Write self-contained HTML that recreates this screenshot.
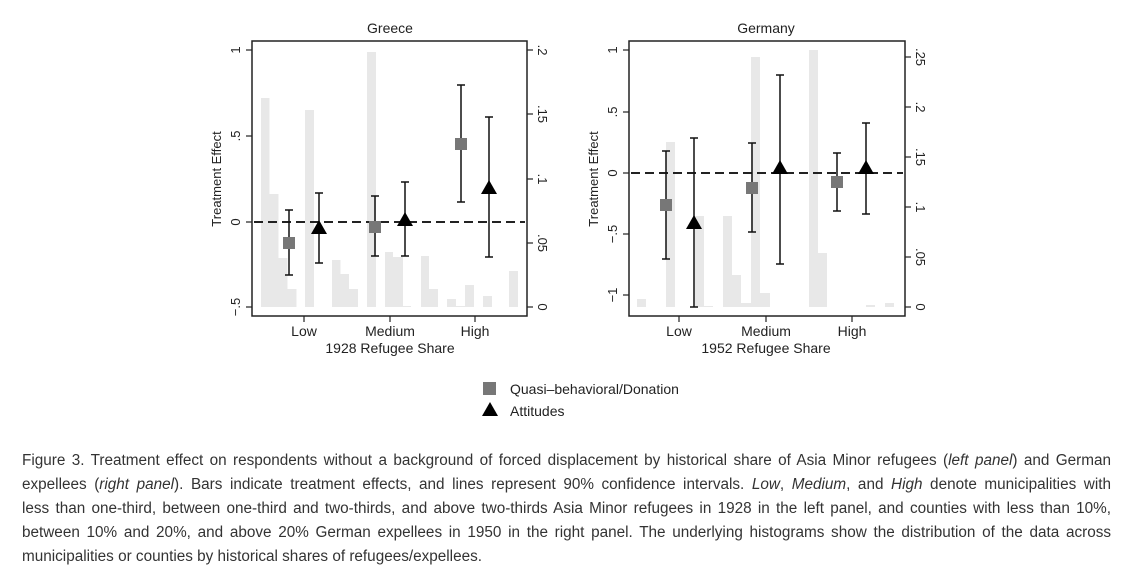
<!DOCTYPE html>
<html><head><meta charset="utf-8"><style>
body{margin:0;background:#fff;width:1130px;height:582px;overflow:hidden;font-family:"Liberation Sans",sans-serif}
.cap{position:absolute;left:22px;width:1089px;font-size:15.3px;color:#333;line-height:24px}
.cap div{text-align:justify;text-align-last:justify;white-space:nowrap;height:24px}
.cap div.l{text-align-last:left}
</style></head><body>
<svg width="1130" height="440" style="position:absolute;left:0;top:0" font-family="Liberation Sans, sans-serif">
<g fill="#e8e8e8">
<rect x="261" y="98" width="8.5" height="209"/>
<rect x="269.5" y="194" width="9" height="113"/>
<rect x="278.5" y="258" width="9" height="49"/>
<rect x="287.5" y="289" width="9" height="18"/>
<rect x="305" y="110" width="9" height="197"/>
<rect x="332" y="260" width="8.5" height="47"/>
<rect x="340.5" y="274" width="8.5" height="33"/>
<rect x="349" y="289" width="9" height="18"/>
<rect x="367" y="52" width="9" height="255"/>
<rect x="385" y="252" width="8" height="55"/>
<rect x="393" y="257" width="10" height="50"/>
<rect x="403" y="306" width="8" height="1"/>
<rect x="421" y="256" width="8" height="51"/>
<rect x="429" y="289" width="9" height="18"/>
<rect x="447" y="299" width="9" height="8"/>
<rect x="456" y="306" width="9" height="1"/>
<rect x="465" y="285" width="9" height="22"/>
<rect x="483" y="296" width="9" height="11"/>
<rect x="509" y="271" width="9" height="36"/>
<rect x="637" y="299" width="9" height="8"/>
<rect x="666" y="142" width="9" height="165"/>
<rect x="695" y="216" width="9" height="91"/>
<rect x="704" y="306" width="9" height="1"/>
<rect x="723" y="216" width="9" height="91"/>
<rect x="732" y="275" width="9" height="32"/>
<rect x="741" y="303" width="10" height="4"/>
<rect x="751" y="57" width="9" height="250"/>
<rect x="760" y="293" width="10" height="14"/>
<rect x="809" y="50" width="9" height="257"/>
<rect x="818" y="253" width="9" height="54"/>
<rect x="866" y="305" width="9" height="2"/>
<rect x="885" y="303" width="9" height="4"/>
</g>
<g fill="none" stroke="#222" stroke-width="1.5">
<rect x="252" y="41" width="275" height="275"/>
<rect x="629" y="41" width="276" height="275"/>
</g>
<g stroke="#222" stroke-width="1.2">
<line x1="246" y1="50" x2="252" y2="50"/><line x1="246" y1="136" x2="252" y2="136"/><line x1="246" y1="222" x2="252" y2="222"/><line x1="246" y1="307" x2="252" y2="307"/>
<line x1="527" y1="50" x2="533" y2="50"/><line x1="527" y1="114" x2="533" y2="114"/><line x1="527" y1="179" x2="533" y2="179"/><line x1="527" y1="243" x2="533" y2="243"/><line x1="527" y1="307" x2="533" y2="307"/>
<line x1="304" y1="316" x2="304" y2="322"/><line x1="390" y1="316" x2="390" y2="322"/><line x1="475" y1="316" x2="475" y2="322"/>
<line x1="623" y1="50" x2="629" y2="50"/><line x1="623" y1="112" x2="629" y2="112"/><line x1="623" y1="173" x2="629" y2="173"/><line x1="623" y1="234" x2="629" y2="234"/><line x1="623" y1="295" x2="629" y2="295"/>
<line x1="905" y1="57" x2="911" y2="57"/><line x1="905" y1="107" x2="911" y2="107"/><line x1="905" y1="157" x2="911" y2="157"/><line x1="905" y1="207" x2="911" y2="207"/><line x1="905" y1="257" x2="911" y2="257"/><line x1="905" y1="307" x2="911" y2="307"/>
<line x1="679" y1="316" x2="679" y2="322"/><line x1="766" y1="316" x2="766" y2="322"/><line x1="852" y1="316" x2="852" y2="322"/>
</g>
<g stroke="#222" stroke-width="2" stroke-dasharray="9,5">
<line x1="254" y1="222" x2="525" y2="222"/>
<line x1="631" y1="173" x2="903" y2="173"/>
</g>
<g stroke="#111" stroke-width="1.5">
<path d="M289 210V275M285 210h8M285 275h8"/>
<path d="M319 193V263M315 193h8M315 263h8"/>
<path d="M375 196V256M371 196h8M371 256h8"/>
<path d="M405 182V256M401 182h8M401 256h8"/>
<path d="M461 85V202M457 85h8M457 202h8"/>
<path d="M489 117V257M485 117h8M485 257h8"/>
<path d="M666 151V259M662 151h8M662 259h8"/>
<path d="M694 138V307M690 138h8M690 307h8"/>
<path d="M752 143V232M748 143h8M748 232h8"/>
<path d="M780 75V264M776 75h8M776 264h8"/>
<path d="M837 153V211M833 153h8M833 211h8"/>
<path d="M866 123V214M862 123h8M862 214h8"/>
</g>
<g fill="#777">
<rect x="283" y="237" width="12" height="12"/><rect x="369" y="221" width="12" height="12"/><rect x="455" y="138" width="12" height="12"/>
<rect x="660" y="199" width="12" height="12"/><rect x="746" y="182" width="12" height="12"/><rect x="831" y="176" width="12" height="12"/>
<rect x="483" y="382" width="13" height="13"/>
</g>
<g fill="#000">
<path d="M319 220l-8 14h16z"/><path d="M405 212l-8 14h16z"/><path d="M489 180l-8 14h16z"/>
<path d="M694 215l-8 14h16z"/><path d="M780 160l-8 14h16z"/><path d="M866 160l-8 14h16z"/>
<path d="M490 402l-8 14h16z"/>
</g>
<g font-size="14" fill="#222" text-anchor="middle">
<text x="390" y="33">Greece</text><text x="766" y="33">Germany</text>
<text x="304" y="336">Low</text><text x="390" y="336">Medium</text><text x="475" y="336">High</text>
<text x="390" y="353">1928 Refugee Share</text>
<text x="679" y="336">Low</text><text x="766" y="336">Medium</text><text x="852" y="336">High</text>
<text x="766" y="353">1952 Refugee Share</text>
</g>
<g font-size="13" fill="#222" text-anchor="middle">
<text transform="translate(221,179) rotate(-90)">Treatment Effect</text>
<text transform="translate(598,179) rotate(-90)">Treatment Effect</text>
<text transform="translate(240,50) rotate(-90)">1</text><text transform="translate(240,136) rotate(-90)">.5</text><text transform="translate(240,222) rotate(-90)">0</text><text transform="translate(240,307) rotate(-90)">−.5</text>
<text transform="translate(538,50) rotate(90)">.2</text><text transform="translate(538,114) rotate(90)">.15</text><text transform="translate(538,179) rotate(90)">.1</text><text transform="translate(538,243) rotate(90)">.05</text><text transform="translate(538,307) rotate(90)">0</text>
<text transform="translate(617,50) rotate(-90)">1</text><text transform="translate(617,112) rotate(-90)">.5</text><text transform="translate(617,173) rotate(-90)">0</text><text transform="translate(617,234) rotate(-90)">−.5</text><text transform="translate(617,295) rotate(-90)">−1</text>
<text transform="translate(916,57) rotate(90)">.25</text><text transform="translate(916,107) rotate(90)">.2</text><text transform="translate(916,157) rotate(90)">.15</text><text transform="translate(916,207) rotate(90)">.1</text><text transform="translate(916,257) rotate(90)">.05</text><text transform="translate(916,307) rotate(90)">0</text>
</g>
<g font-size="14" fill="#222">
<text x="510" y="394">Quasi–behavioral/Donation</text>
<text x="510" y="416">Attitudes</text>
</g>
</svg>
<div class="cap" style="top:449px">
<div>Figure 3. Treatment effect on respondents without a background of forced displacement by historical share of Asia Minor refugees (<i>left panel</i>) and German</div>
<div>expellees (<i>right panel</i>). Bars indicate treatment effects, and lines represent 90% confidence intervals. <i>Low</i>, <i>Medium</i>, and <i>High</i> denote municipalities with</div>
<div>less than one-third, between one-third and two-thirds, and above two-thirds Asia Minor refugees in 1928 in the left panel, and counties with less than 10%,</div>
<div>between 10% and 20%, and above 20% German expellees in 1950 in the right panel. The underlying histograms show the distribution of the data across</div>
<div class="l">municipalities or counties by historical shares of refugees/expellees.</div>
</div>
</body></html>
